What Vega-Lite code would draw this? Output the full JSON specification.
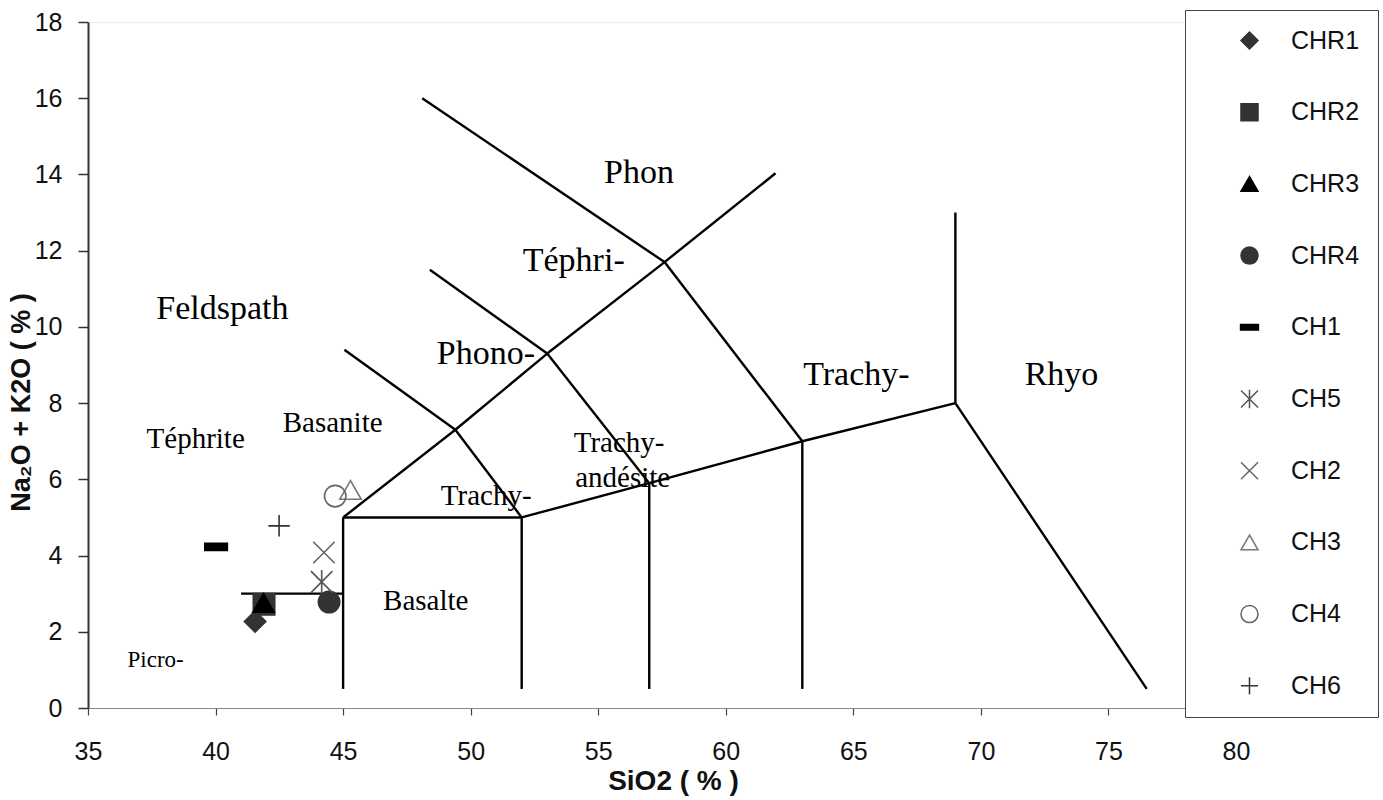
{
  "$schema": "https://vega.github.io/schema/vega-lite/v6.json",
  "width": 1148,
  "height": 686,
  "autosize": {"type": "none"},
  "padding": {"left": 88, "top": 22, "right": 147, "bottom": 92},
  "background": "white",
  "config": {"view": {"stroke": "#eeeeee"}, "font": "Liberation Sans"},
  "datasets": {
    "segments": [
      {"x": 41, "y": 3, "xe": 45, "ye": 3},
      {"x": 45, "y": 0.5, "xe": 45, "ye": 5},
      {"x": 45, "y": 5, "xe": 52, "ye": 5},
      {"x": 52, "y": 0.5, "xe": 52, "ye": 5},
      {"x": 57, "y": 0.5, "xe": 57, "ye": 5.9},
      {"x": 63, "y": 0.5, "xe": 63, "ye": 7},
      {"x": 52, "y": 5, "xe": 57, "ye": 5.9},
      {"x": 57, "y": 5.9, "xe": 63, "ye": 7},
      {"x": 63, "y": 7, "xe": 69, "ye": 8},
      {"x": 69, "y": 8, "xe": 69, "ye": 13},
      {"x": 69, "y": 8, "xe": 76.5, "ye": 0.5},
      {"x": 45, "y": 5, "xe": 49.4, "ye": 7.3},
      {"x": 49.4, "y": 7.3, "xe": 53, "ye": 9.3},
      {"x": 53, "y": 9.3, "xe": 57.6, "ye": 11.7},
      {"x": 57.6, "y": 11.7, "xe": 61.95, "ye": 14.03},
      {"x": 45.05, "y": 9.4, "xe": 49.4, "ye": 7.3},
      {"x": 49.4, "y": 7.3, "xe": 52, "ye": 5},
      {"x": 48.4, "y": 11.5, "xe": 53, "ye": 9.3},
      {"x": 53, "y": 9.3, "xe": 57, "ye": 5.9},
      {"x": 48.1, "y": 16.0, "xe": 57.6, "ye": 11.7},
      {"x": 57.6, "y": 11.7, "xe": 63, "ye": 7}
    ],
    "bigLabels": [
      {"x": 40.27, "y": 10.47, "label": "Feldspath"},
      {"x": 56.6, "y": 14.03, "label": "Phon"},
      {"x": 54.04, "y": 11.72, "label": "Téphri-"},
      {"x": 50.6, "y": 9.3, "label": "Phono-"},
      {"x": 65.12, "y": 8.74, "label": "Trachy-"},
      {"x": 73.16, "y": 8.74, "label": "Rhyo"}
    ],
    "midLabels": [
      {"x": 39.22, "y": 7.06, "label": "Téphrite"},
      {"x": 44.59, "y": 7.48, "label": "Basanite"},
      {"x": 50.61, "y": 5.55, "label": "Trachy-"},
      {"x": 55.82, "y": 6.96, "label": "Trachy-"},
      {"x": 55.96, "y": 6.04, "label": "andésite"},
      {"x": 48.24, "y": 2.81, "label": "Basalte"}
    ],
    "smallLabels": [
      {"x": 37.65, "y": 1.25, "label": "Picro-"}
    ],
    "samples": [
      {"sample": "CHR1", "x": 41.55, "y": 2.27},
      {"sample": "CHR2", "x": 41.9, "y": 2.72},
      {"sample": "CHR3", "x": 41.88, "y": 2.76},
      {"sample": "CHR4", "x": 44.45, "y": 2.78},
      {"sample": "CH1", "x": 40.02, "y": 4.23},
      {"sample": "CH5", "x": 44.16, "y": 3.31},
      {"sample": "CH2", "x": 44.25, "y": 4.08},
      {"sample": "CH3", "x": 45.29, "y": 5.72},
      {"sample": "CH4", "x": 44.69, "y": 5.56},
      {"sample": "CH6", "x": 42.49, "y": 4.78}
    ]
  },
  "encoding": {
    "x": {
      "field": "x",
      "type": "quantitative",
      "scale": {"domain": [35, 80], "nice": false, "zero": false},
      "axis": {
        "title": "SiO2  ( % )",
        "values": [35, 40, 45, 50, 55, 60, 65, 70, 75, 80],
        "grid": false,
        "tickSize": 7,
        "tickColor": "#444",
        "tickWidth": 1.2,
        "domainColor": "#888",
        "domainWidth": 1.2,
        "labelFont": "Liberation Sans",
        "labelFontSize": 25,
        "labelColor": "#111",
        "labelPadding": 24,
        "labelFlush": false,
        "titleFont": "Liberation Sans",
        "titleFontSize": 28,
        "titleFontWeight": "bold",
        "titleColor": "#111",
        "titleX": 585,
        "titleY": 73,
        "titleBaseline": "middle",
        "titleAlign": "center"
      }
    },
    "y": {
      "field": "y",
      "type": "quantitative",
      "scale": {"domain": [0, 18], "nice": false, "zero": false},
      "axis": {
        "title": "Na₂O + K2O ( % )",
        "values": [0, 2, 4, 6, 8, 10, 12, 14, 16, 18],
        "grid": false,
        "tickSize": 10,
        "tickColor": "#333",
        "tickWidth": 1.5,
        "domainColor": "#333",
        "domainWidth": 2,
        "labelFont": "Liberation Sans",
        "labelFontSize": 25,
        "labelColor": "#111",
        "labelPadding": 16,
        "labelFlush": false,
        "titleFont": "Liberation Sans",
        "titleFontSize": 27,
        "titleFontWeight": "bold",
        "titleColor": "#111",
        "titleX": -67,
        "titleY": 380,
        "titleAngle": -90,
        "titleBaseline": "middle",
        "titleAlign": "center"
      }
    }
  },
  "layer": [
    {
      "data": {"name": "segments"},
      "mark": {"type": "rule", "color": "black", "strokeWidth": 2.4},
      "encoding": {
        "x2": {"field": "xe"},
        "y2": {"field": "ye"}
      }
    },
    {
      "data": {"name": "bigLabels"},
      "mark": {"type": "text", "font": "Liberation Serif", "fontSize": 34, "color": "black", "align": "center", "baseline": "middle"},
      "encoding": {"text": {"field": "label"}}
    },
    {
      "data": {"name": "midLabels"},
      "mark": {"type": "text", "font": "Liberation Serif", "fontSize": 29, "color": "black", "align": "center", "baseline": "middle"},
      "encoding": {"text": {"field": "label"}}
    },
    {
      "data": {"name": "smallLabels"},
      "mark": {"type": "text", "font": "Liberation Serif", "fontSize": 23, "color": "black", "align": "center", "baseline": "middle"},
      "encoding": {"text": {"field": "label"}}
    },
    {
      "data": {"name": "samples"},
      "mark": {"type": "point", "size": 460, "strokeWidth": 1.6, "opacity": 1},
      "encoding": {
        "shape": {
          "field": "sample",
          "type": "nominal",
          "scale": {
            "domain": ["CHR1", "CHR2", "CHR3", "CHR4", "CH1", "CH5", "CH2", "CH3", "CH4", "CH6"],
            "range": [
              "diamond",
              "square",
              "triangle-up",
              "circle",
              "M -1.05 -0.33 L 1.05 -0.33 L 1.05 0.33 L -1.05 0.33 Z",
              "M -1 -1 L 1 1 M -1 1 L 1 -1 M 0 -1.1 L 0 1.1",
              "M -1 -1 L 1 1 M -1 1 L 1 -1",
              "triangle-up",
              "circle",
              "M -1 0 L 1 0 M 0 -1 L 0 1"
            ]
          },
          "legend": {
            "title": null,
            "orient": "none",
            "legendX": 1097,
            "legendY": -12,
            "zindex": 1,
            "fillColor": "white",
            "strokeColor": "#444",
            "padding": 18,
            "symbolSize": 290,
            "symbolStrokeWidth": 1.5,
            "symbolOffset": 34,
            "labelOffset": 29,
            "labelFont": "Liberation Sans",
            "labelFontSize": 25,
            "labelColor": "#111",
            "rowPadding": 45.7,
            "labelLimit": 200
          }
        },
        "fill": {
          "field": "sample",
          "type": "nominal",
          "scale": {
            "domain": ["CHR1", "CHR2", "CHR3", "CHR4", "CH1", "CH5", "CH2", "CH3", "CH4", "CH6"],
            "range": ["#333333", "#333333", "#000000", "#333333", "#000000", "transparent", "transparent", "transparent", "transparent", "transparent"]
          }
        },
        "stroke": {
          "field": "sample",
          "type": "nominal",
          "scale": {
            "domain": ["CHR1", "CHR2", "CHR3", "CHR4", "CH1", "CH5", "CH2", "CH3", "CH4", "CH6"],
            "range": ["#333333", "#333333", "#000000", "#333333", "#000000", "#555555", "#666666", "#777777", "#666666", "#333333"]
          }
        }
      }
    }
  ]
}
